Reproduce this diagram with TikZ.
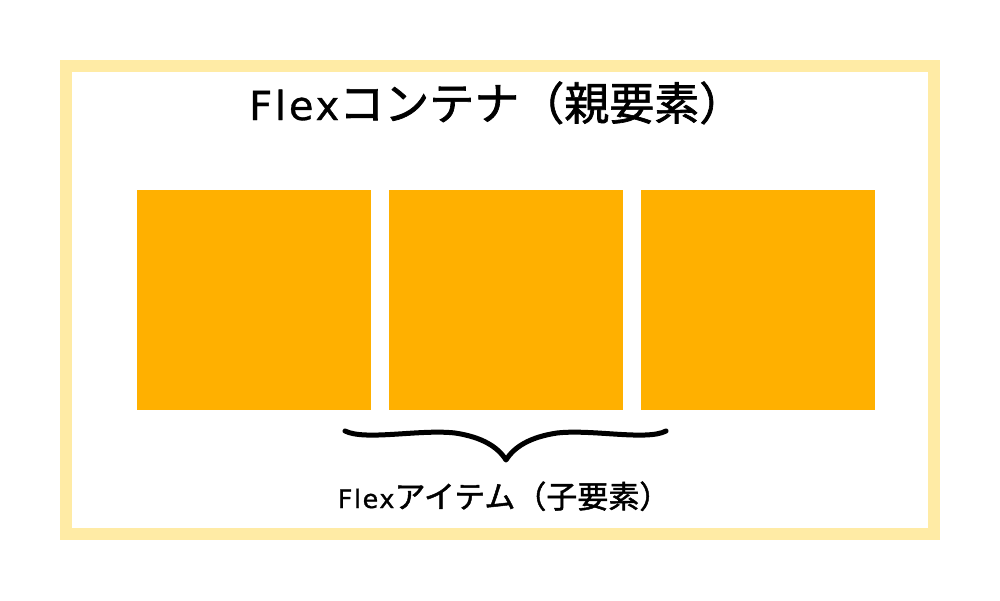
\documentclass[tikz,border=0pt]{standalone}
\usepackage{fontspec}
\setmainfont{DejaVu Sans}[FakeBold=0.8]
\newfontfamily\jpfont{Noto Sans CJK JP}[FakeBold=1.5]
\usepackage{tikz}

\definecolor{frameyellow}{HTML}{FFEBA5}
\definecolor{itemorange}{HTML}{FFB000}

\newcommand{\jp}[2]{{\fontsize{#1}{#1}\jpfont #2}}

\begin{document}
\begin{tikzpicture}[x=1pt, y=-1pt,
        itembox/.style={fill=itemorange, minimum width=234pt, minimum height=220pt, inner sep=0pt}]
        \useasboundingbox (0, 0) rectangle (1000, 600);

        % Draw the outer container frame
        \draw[frameyellow, line width=12pt] (66, 66) rectangle (934, 534);

        % Title of the container
        \node[font=\fontsize{40}{42}\selectfont\addfontfeatures{LetterSpace=7}, anchor=base west, inner sep=0pt]
            (title) at (249, 120) {Flex\jp{45}{コンテナ（親要素）}};

        % Draw the three flex items
        \foreach \i in {1, 2, 3} {
            \node[itembox] (item\i) at ({254 + (\i-1)*252}, 300) {};
        }

        % Draw the brace under the items
        \coordinate (braceL) at (345, 431);
        \coordinate (braceTip) at (506, 460);
        \coordinate (braceR) at (666, 431);
        \draw[line width=5pt, line cap=round, line join=round]
            (braceL) .. controls (365, 441) and (420, 429) .. (455, 433)
            .. controls (482, 437) and (498, 447) .. (braceTip)
            .. controls (514, 447) and (530, 437) .. (557, 433)
            .. controls (592, 429) and (647, 441) .. (braceR);

        % Label of the items
        \node[font=\fontsize{25.5}{27}\selectfont\addfontfeatures{LetterSpace=6}, anchor=base west, inner sep=0pt]
            (label) at (337.6, 508) {Flex\jp{31}{アイテム（子要素）}};
    \end{tikzpicture}
\end{document}
